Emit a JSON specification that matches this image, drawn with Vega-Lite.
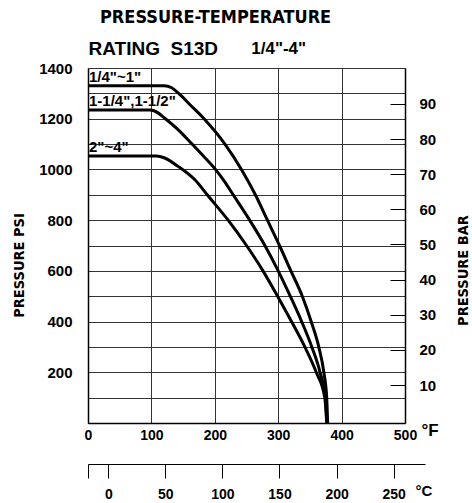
{
  "$schema": "https://vega.github.io/schema/vega-lite/v6.json",
  "width": 317,
  "height": 355,
  "autosize": {"type": "none"},
  "padding": {"left": 88, "top": 68, "right": 67, "bottom": 80},
  "title": {
    "text": "PRESSURE-TEMPERATURE",
    "anchor": "start",
    "frame": "group",
    "dx": 12,
    "offset": 12,
    "font": "DejaVu Sans Condensed, Liberation Sans",
    "fontSize": 18,
    "fontWeight": "bold",
    "color": "#000"
  },
  "datasets": {
    "curves": [
      {"series": "1/4\"~1\"", "F": 0, "psi": 1330},
      {"series": "1/4\"~1\"", "F": 120, "psi": 1330},
      {"series": "1/4\"~1\"", "F": 132, "psi": 1322},
      {"series": "1/4\"~1\"", "F": 143, "psi": 1300},
      {"series": "1/4\"~1\"", "F": 163, "psi": 1250},
      {"series": "1/4\"~1\"", "F": 183, "psi": 1200},
      {"series": "1/4\"~1\"", "F": 216, "psi": 1100},
      {"series": "1/4\"~1\"", "F": 242, "psi": 1000},
      {"series": "1/4\"~1\"", "F": 264, "psi": 900},
      {"series": "1/4\"~1\"", "F": 283, "psi": 800},
      {"series": "1/4\"~1\"", "F": 302, "psi": 700},
      {"series": "1/4\"~1\"", "F": 320, "psi": 600},
      {"series": "1/4\"~1\"", "F": 338, "psi": 500},
      {"series": "1/4\"~1\"", "F": 352, "psi": 400},
      {"series": "1/4\"~1\"", "F": 364, "psi": 300},
      {"series": "1/4\"~1\"", "F": 372, "psi": 200},
      {"series": "1/4\"~1\"", "F": 376.5, "psi": 100},
      {"series": "1/4\"~1\"", "F": 378, "psi": 0},
      {"series": "1-1/4\",1-1/2\"", "F": 0, "psi": 1234},
      {"series": "1-1/4\",1-1/2\"", "F": 98, "psi": 1234},
      {"series": "1-1/4\",1-1/2\"", "F": 111, "psi": 1222},
      {"series": "1-1/4\",1-1/2\"", "F": 119, "psi": 1206},
      {"series": "1-1/4\",1-1/2\"", "F": 142, "psi": 1157},
      {"series": "1-1/4\",1-1/2\"", "F": 163, "psi": 1103},
      {"series": "1-1/4\",1-1/2\"", "F": 183, "psi": 1050},
      {"series": "1-1/4\",1-1/2\"", "F": 201, "psi": 1000},
      {"series": "1-1/4\",1-1/2\"", "F": 216, "psi": 950},
      {"series": "1-1/4\",1-1/2\"", "F": 229, "psi": 900},
      {"series": "1-1/4\",1-1/2\"", "F": 255, "psi": 800},
      {"series": "1-1/4\",1-1/2\"", "F": 279, "psi": 700},
      {"series": "1-1/4\",1-1/2\"", "F": 300, "psi": 600},
      {"series": "1-1/4\",1-1/2\"", "F": 319, "psi": 500},
      {"series": "1-1/4\",1-1/2\"", "F": 337, "psi": 400},
      {"series": "1-1/4\",1-1/2\"", "F": 353, "psi": 300},
      {"series": "1-1/4\",1-1/2\"", "F": 366, "psi": 200},
      {"series": "1-1/4\",1-1/2\"", "F": 374.5, "psi": 100},
      {"series": "1-1/4\",1-1/2\"", "F": 377, "psi": 0},
      {"series": "2\"~4\"", "F": 0, "psi": 1053},
      {"series": "2\"~4\"", "F": 108, "psi": 1053},
      {"series": "2\"~4\"", "F": 121, "psi": 1045},
      {"series": "2\"~4\"", "F": 142, "psi": 1012},
      {"series": "2\"~4\"", "F": 169, "psi": 958},
      {"series": "2\"~4\"", "F": 188, "psi": 900},
      {"series": "2\"~4\"", "F": 221, "psi": 800},
      {"series": "2\"~4\"", "F": 250, "psi": 700},
      {"series": "2\"~4\"", "F": 276, "psi": 600},
      {"series": "2\"~4\"", "F": 299, "psi": 500},
      {"series": "2\"~4\"", "F": 321, "psi": 400},
      {"series": "2\"~4\"", "F": 342, "psi": 300},
      {"series": "2\"~4\"", "F": 360, "psi": 200},
      {"series": "2\"~4\"", "F": 373.5, "psi": 100},
      {"series": "2\"~4\"", "F": 376.5, "psi": 0}
    ],
    "labels": [
      {"label": "1/4\"~1\"", "F": 0, "psi": 1330},
      {"label": "1-1/4\",1-1/2\"", "F": 0, "psi": 1234},
      {"label": "2\"~4\"", "F": 0, "psi": 1053}
    ],
    "units": [
      {"C": -17.78, "bar": 0},
      {"C": 250, "bar": 90}
    ],
    "heading": [
      {"F": 300, "text": "1/4\"-4\""}
    ]
  },
  "layer": [
    {
      "data": {"name": "curves"},
      "mark": {"type": "line", "interpolate": "monotone", "strokeWidth": 3, "color": "#000"},
      "encoding": {
        "x": {
          "field": "F", "type": "quantitative",
          "scale": {"domain": [0, 500], "nice": false},
          "axis": {
            "orient": "bottom",
            "values": [0, 100, 200, 300, 400, 500],
            "grid": true, "gridColor": "#333", "gridOpacity": 1, "gridWidth": 1,
            "ticks": false, "domainColor": "#000", "domainWidth": 1.5,
            "labelFontSize": 14, "labelPadding": 5, "labelFlush": false,
            "title": "°F", "titleX": 333, "titleY": 12, "titleAlign": "left",
            "titleBaseline": "alphabetic", "titleFontSize": 17,
            "titleFont": "Liberation Sans"
          }
        },
        "y": {
          "field": "psi", "type": "quantitative",
          "scale": {"domain": [0, 1400], "nice": false},
          "axis": {
            "orient": "left",
            "values": [0, 100, 200, 300, 400, 500, 600, 700, 800, 900, 1000, 1100, 1200, 1300, 1400],
            "labelExpr": "datum.value % 200 == 0 && datum.value > 0 ? datum.label : ''",
            "format": "d",
            "grid": true, "gridColor": "#333", "gridOpacity": 1, "gridWidth": 1,
            "ticks": false, "domainColor": "#000", "domainWidth": 1.5,
            "labelFontSize": 15, "labelPadding": 16, "labelOverlap": false,
            "title": "PRESSURE PSI", "titleAngle": 270, "titleX": -69, "titleY": 197,
            "titleAlign": "center", "titleBaseline": "middle", "titleFontSize": 14.5
          }
        },
        "detail": {"field": "series"}
      }
    },
    {
      "data": {"name": "labels"},
      "mark": {"type": "text", "align": "left", "baseline": "alphabetic", "dx": 1, "dy": -4, "fontSize": 15, "fontWeight": "bold", "font": "Liberation Sans", "color": "#000"},
      "encoding": {
        "x": {"field": "F", "type": "quantitative", "scale": {"domain": [0, 500], "nice": false}, "axis": null},
        "y": {"field": "psi", "type": "quantitative", "scale": {"domain": [0, 1400], "nice": false}, "axis": null},
        "text": {"field": "label"}
      }
    },
    {
      "data": {"name": "units"},
      "mark": {"type": "point", "opacity": 0},
      "encoding": {
        "x": {
          "field": "C", "type": "quantitative",
          "scale": {"domain": [-17.78, 277.5], "range": [0, 337], "nice": false, "zero": false},
          "axis": {
            "orient": "bottom", "offset": 41,
            "values": [-17.78, 0, 50, 100, 150, 200, 250],
            "labelExpr": "datum.value < -1 ? '' : datum.label",
            "grid": false, "ticks": true, "tickSize": 14, "tickColor": "#000", "tickWidth": 1,
            "domainColor": "#000", "domainWidth": 1,
            "labelFontSize": 14, "labelPadding": 9, "labelFlush": false,
            "title": "°C", "titleX": 327, "titleY": 31, "titleAlign": "left",
            "titleBaseline": "alphabetic", "titleFontSize": 15, "titleFont": "Liberation Sans"
          }
        },
        "y": {
          "field": "bar", "type": "quantitative",
          "scale": {"domain": [-0.8, 100.2], "nice": false, "zero": false},
          "axis": {
            "orient": "right",
            "values": [10, 20, 30, 40, 50, 60, 70, 80, 90],
            "grid": false, "domain": true, "domainColor": "#000", "domainWidth": 1.5,
            "ticks": true, "tickSize": -15, "tickColor": "#000", "tickWidth": 1,
            "labelFontSize": 15, "labelPadding": 29, "labelAlign": "left",
            "title": "PRESSURE BAR", "titleAngle": 270, "titleX": 58, "titleY": 202,
            "titleAlign": "center", "titleBaseline": "middle", "titleFontSize": 14.5
          }
        }
      }
    },
    {
      "data": {"name": "heading"},
      "mark": {"type": "point", "opacity": 0},
      "encoding": {
        "x": {
          "field": "F", "type": "quantitative",
          "scale": {"domain": [0, 500], "nice": false},
          "axis": {
            "orient": "top", "values": [300],
            "labelExpr": "'1/4\"-4\"'",
            "ticks": false, "domain": false, "grid": false,
            "labelPadding": 15, "labelBaseline": "alphabetic", "labelFontSize": 17,
            "title": "RATING\u00a0\u00a0S13D", "titleX": 0, "titleY": -14,
            "titleAlign": "left", "titleBaseline": "alphabetic", "titleFontSize": 19,
            "titleFont": "Liberation Sans"
          }
        }
      }
    }
  ],
  "resolve": {
    "scale": {"x": "independent", "y": "independent"},
    "axis": {"x": "independent", "y": "independent"}
  },
  "config": {
    "view": {"stroke": null},
    "axis": {
      "labelFont": "Liberation Sans",
      "labelFontWeight": "bold",
      "labelColor": "#000",
      "titleFont": "DejaVu Sans Condensed, Liberation Sans",
      "titleFontWeight": "bold",
      "titleColor": "#000"
    }
  }
}
